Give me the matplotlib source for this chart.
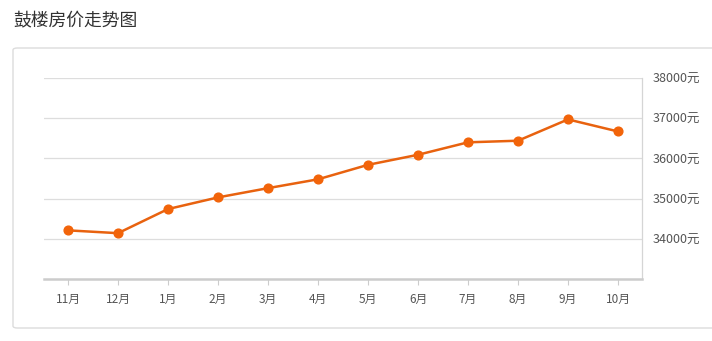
import matplotlib
matplotlib.use("Agg")
import matplotlib.pyplot as plt
from matplotlib.patches import FancyBboxPatch

plt.rcParams['font.family'] = ['Noto Sans CJK SC', 'DejaVu Sans']

title = "鼓楼房价走势图"
months = ["11月", "12月", "1月", "2月", "3月", "4月", "5月", "6月", "7月", "8月", "9月", "10月"]
prices = [34210, 34140, 34740, 35030, 35260, 35480, 35840, 36090, 36400, 36440, 36970, 36670]
ytick_vals = [34000, 35000, 36000, 37000, 38000]
ytick_labels = [f"{v}元" for v in ytick_vals]

W, H = 712, 341
fig = plt.figure(figsize=(W / 100, H / 100), dpi=100)
fig.patch.set_facecolor('white')

# card border
card = FancyBboxPatch((13 / W, 1 - 328 / H), (W + 10 - 13) / W, (328 - 48) / H,
                      boxstyle="round,pad=0,rounding_size=0.006",
                      transform=fig.transFigure, facecolor='white',
                      edgecolor='#dcdcdc', linewidth=1.0, zorder=-5)
fig.patches.append(card)

fig.text(13 / W, 1 - 20 / H, title, fontsize=12.8, color='#333333',
         ha='left', va='center')

ax = fig.add_axes([44 / W, 1 - 279 / H, (642 - 44) / W, (279 - 78) / H])
ax.set_zorder(2)
ax.set_facecolor('none')
x = list(range(len(months)))
ax.plot(x, prices, color='#e8620f', linewidth=1.8, marker='o', markersize=6.3,
        markerfacecolor='#f2640a', markeredgecolor='#f2640a', zorder=3,
        clip_on=False)

ax.set_xlim(-0.48, len(months) - 0.52)
ax.set_ylim(33000, 38000)
ax.set_xticks(x)
ax.set_xticklabels(months)
ax.set_yticks(ytick_vals)
ax.set_yticklabels(ytick_labels)
ax.yaxis.tick_right()
ax.tick_params(axis='y', length=0, pad=8, labelsize=9, labelcolor='#555555')
ax.tick_params(axis='x', length=4, width=0.8, color='#cccccc', pad=6,
               labelsize=8.5, labelcolor='#555555')
ax.grid(axis='y', color='#dddddd', linewidth=0.9)
ax.set_axisbelow(True)
for s in ['top', 'left']:
    ax.spines[s].set_visible(False)
ax.spines['right'].set_color('#d5d5d5')
ax.spines['right'].set_linewidth(0.9)
ax.spines['bottom'].set_color('#cccccc')
ax.spines['bottom'].set_linewidth(1.8)

fig.savefig('out.png', dpi=100, facecolor='white')
